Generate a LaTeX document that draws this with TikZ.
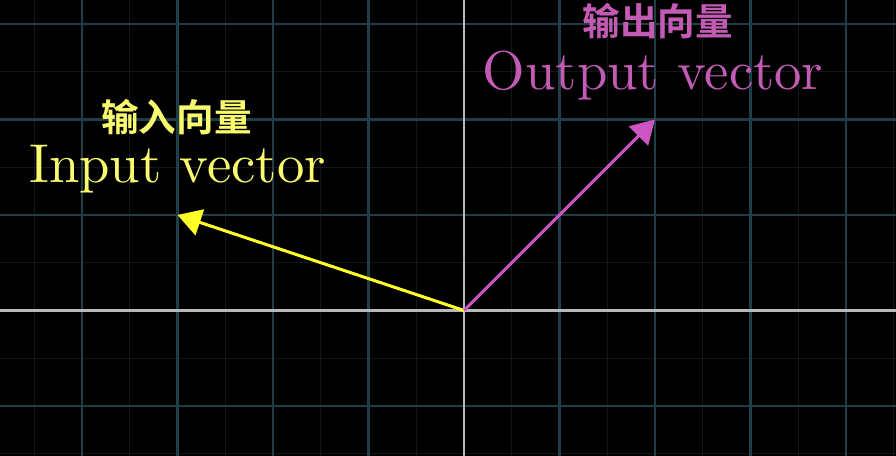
\documentclass[tikz,border=0pt]{standalone}
\usepackage{fontspec}
\newfontfamily\cjk{Noto Sans CJK SC Bold}
\usetikzlibrary{arrows.meta}
\definecolor{bg}{RGB}{0,0,0}
\definecolor{majorgrid}{RGB}{32,62,72}
\definecolor{minorgrid}{RGB}{16,24,28}
\definecolor{axiscol}{RGB}{185,185,185}
\definecolor{inyellow}{RGB}{255,255,40}
\definecolor{intext}{RGB}{250,250,110}
\definecolor{outpink}{RGB}{205,85,195}
\definecolor{outtext}{RGB}{195,90,180}
\tikzset{
  minorline/.style={draw=minorgrid, line width=0.35pt},
  majorline/.style={draw=majorgrid, line width=0.65pt},
  axisline/.style={draw=axiscol, line width=0.75pt},
  vec/.style={line width=0.9pt, -{Triangle[length=7pt,width=8pt]}},
  entext/.style={scale=1.63, anchor=base, font=\fontsize{10}{12}\selectfont},
  cjktext/.style={anchor=center, font=\cjk\fontsize{11.2}{13}\selectfont},
}
\begin{document}
\begin{tikzpicture}
\useasboundingbox (-4.859,-1.524) rectangle (4.524,3.251);
\fill[bg] (-4.859,-1.524) rectangle (4.524,3.251);
% minor grid
\foreach \x in {-4.5,-3.5,...,4.5} \path[minorline] (\x,-1.524) -- (\x,3.251);
\foreach \y in {-1.5,-0.5,...,2.5} \path[minorline] (-4.859,\y) -- (4.524,\y);
% major grid
\foreach \x in {-4,...,-1,1,2,3,4} \path[majorline] (\x,-1.524) -- (\x,3.251);
\foreach \y in {-1,1,2,3} \path[majorline] (-4.859,\y) -- (4.524,\y);
% axes
\path[axisline] (-4.859,0) -- (4.524,0);
\path[axisline] (0,-1.524) -- (0,3.251);
% vectors
\coordinate (O) at (0,0);
\coordinate (vin) at (-3,1);
\coordinate (vout) at (2,2);
\draw[vec, draw=inyellow, fill=inyellow] (O) -- (vin);
\draw[vec, draw=outpink, fill=outpink] (O) -- (vout);
% labels
\node[entext, text=intext] (inlabel) at (-3.0,1.335) {Input vector};
\node[cjktext, text=intext] (incjk) at (-3.01,2.02) {输入向量};
\node[entext, text=outtext] (outlabel) at (1.98,2.309) {Output vector};
\node[cjktext, text=outtext] (outcjk) at (2.03,3.03) {输出向量};
\end{tikzpicture}
\end{document}
